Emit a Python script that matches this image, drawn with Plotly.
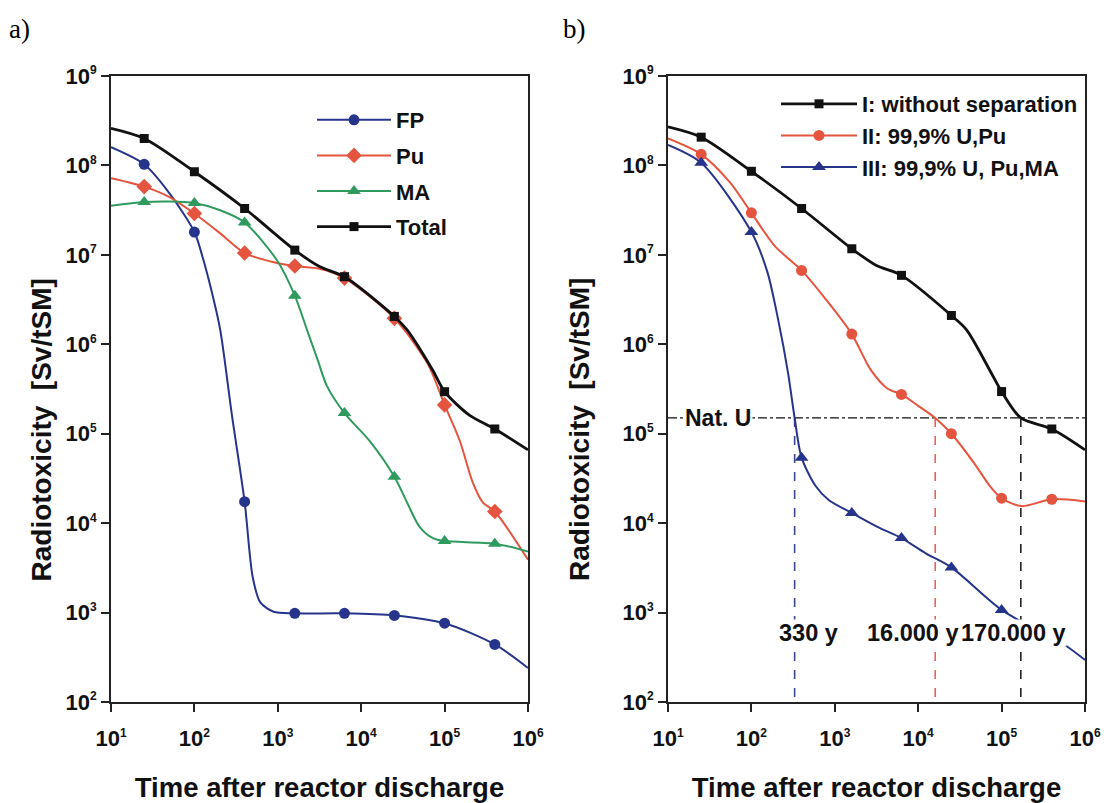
import plotly.graph_objects as go

# ---------------- shared ----------------
MARK_T = [25, 100, 400, 1600, 6300, 25000, 100000, 400000]   # times carrying symbols
TICK_X = [10, 100, 1000, 10000, 100000, 1000000]
TICK_Y = [1e2, 1e3, 1e4, 1e5, 1e6, 1e7, 1e8, 1e9]

# ---------------- a) components of spent fuel ----------------
fp_t = [10, 25, 50, 100, 126, 158, 204, 282, 400, 500, 617, 891, 1600, 6300, 25000, 100000, 400000, 1e6]
fp_v = [1.6e8, 1.03e8, 4.9e7, 1.8e7, 9.3e6, 4.2e6, 1.45e6, 1.6e5, 1.74e4, 2.5e3, 1.3e3, 1.02e3,
        980, 980, 930, 760, 440, 240]

pu_t = [10, 25, 51, 100, 204, 400, 871, 1600, 3160, 6300, 25000, 63000, 100000, 151000, 219000,
        288000, 400000, 1e6]
pu_v = [7.2e7, 5.8e7, 4.4e7, 2.9e7, 1.74e7, 1.05e7, 8.3e6, 7.5e6, 7.0e6, 5.5e6, 1.95e6, 6.0e5,
        2.1e5, 8.5e4, 2.8e4, 1.7e4, 1.35e4, 3.9e3]

ma_t = [10, 25, 50, 100, 204, 400, 977, 1600, 2240, 3020, 3890, 6300, 12600, 25000, 35500, 50100,
        72400, 100000, 400000, 1e6]
ma_v = [3.55e7, 3.9e7, 3.95e7, 3.8e7, 3.15e7, 2.3e7, 8.7e6, 3.5e6, 1.45e6, 6.6e5, 3.4e5, 1.7e5,
        8.3e4, 3.3e4, 1.7e4, 9.1e3, 6.8e3, 6.3e3, 5.9e3, 4.8e3]

tot_t = [10, 25, 100, 400, 1600, 3160, 6300, 25000, 35500, 50100, 72400, 100000, 200000, 400000, 1e6]
tot_v = [2.6e8, 2.0e8, 8.5e7, 3.3e7, 1.13e7, 7.4e6, 5.7e6, 2.05e6, 1.45e6, 9.0e5, 5.1e5, 2.95e5,
         1.6e5, 1.13e5, 6.6e4]

# ---------------- b) effect of partitioning ----------------
s1_t = [10, 25, 100, 400, 1600, 3160, 6300, 25000, 38000, 72400, 100000, 170000, 400000, 1e6]
s1_v = [2.7e8, 2.07e8, 8.6e7, 3.3e7, 1.17e7, 7.6e6, 5.9e6, 2.1e6, 1.45e6, 5.1e5, 2.96e5, 1.5e5,
        1.13e5, 6.6e4]

s2_t = [10, 25, 55, 100, 190, 400, 776, 1600, 2690, 4270, 6300, 10000, 16000, 25000, 46800, 72400,
        100000, 174000, 400000, 1e6]
s2_v = [2.0e8, 1.33e8, 6.5e7, 2.95e7, 1.26e7, 6.7e6, 3.2e6, 1.3e6, 5.2e5, 3.2e5, 2.75e5, 2.05e5,
        1.5e5, 1.0e5, 4.7e4, 2.6e4, 1.9e4, 1.55e4, 1.85e4, 1.75e4]

s3_t = [10, 25, 100, 155, 209, 275, 330, 400, 589, 851, 1600, 3240, 6300, 12300, 25000, 100000,
        400000, 603000, 1e6]
s3_v = [1.7e8, 1.07e8, 1.8e7, 6.5e6, 1.9e6, 4.8e5, 1.5e5, 5.4e4, 2.6e4, 1.8e4, 1.3e4, 9.1e3, 6.8e3,
        4.6e3, 3.2e3, 1.07e3, 5.2e2, 4.2e2, 2.95e2]

NAT_U = 1.5e5                         # natural uranium reference level
CROSS_T = [330, 16000, 170000]        # times at which each case reaches NAT_U
CROSS_LABELS = ["330 y", "16.000 y", "170.000 y"]

# ---------------- styling ----------------
SANS = "Liberation Sans, Arial, sans-serif"
BLUE, RED, GREEN, BLACK = "#27348b", "#e4543e", "#2f9a5e", "#111111"


def pick(ts, vs):
    """Values at the symbol times."""
    d = dict(zip(ts, vs))
    return [t for t in MARK_T if t in d], [d[t] for t in MARK_T if t in d]


def tick_text(v):
    e = len(str(int(v))) - 1
    return f"10<sup><span style='font-size:12px'>{e}</span></sup>"


fig = go.Figure()


def add_series(ts, vs, name, color, symbol, msize, width, xa, ya, legend):
    mx, my = pick(ts, vs)
    fig.add_trace(go.Scatter(x=ts, y=vs, mode="lines", line=dict(color=color, width=width,
                             shape="spline", smoothing=0.8), xaxis=xa, yaxis=ya,
                             showlegend=False, hoverinfo="skip"))
    fig.add_trace(go.Scatter(x=mx, y=my, mode="markers", xaxis=xa, yaxis=ya, showlegend=False,
                             marker=dict(color=color, symbol=symbol, size=msize)))
    # legend entry (line + symbol)
    fig.add_trace(go.Scatter(x=[None], y=[None], mode="lines+markers", name=name, legend=legend,
                             legendgroup=name, line=dict(color=color, width=width),
                             xaxis=xa, yaxis=ya,
                             marker=dict(color=color, symbol=symbol, size=msize)))


# reference level and crossing markers in panel b
fig.add_trace(go.Scatter(x=[10, 1e6], y=[NAT_U, NAT_U], mode="lines", xaxis="x2", yaxis="y2",
                         line=dict(color=BLACK, width=1.3, dash="dashdot"), showlegend=False,
                         hoverinfo="skip"))
for t, c in zip(CROSS_T, ["#3c4790", "#e8605a", "#222222"]):
    fig.add_trace(go.Scatter(x=[t, t], y=[NAT_U, 100], mode="lines", xaxis="x2", yaxis="y2",
                             line=dict(color=c, width=1.6, dash="dash"), showlegend=False,
                             hoverinfo="skip"))

add_series(fp_t, fp_v, "FP", BLUE, "circle", 11, 2, "x", "y", "legend")
add_series(pu_t, pu_v, "Pu", RED, "diamond", 12, 2, "x", "y", "legend")
add_series(ma_t, ma_v, "MA", GREEN, "triangle-up", 12, 2, "x", "y", "legend")
add_series(tot_t, tot_v, "Total", BLACK, "square", 9, 2.8, "x", "y", "legend")

add_series(s1_t, s1_v, "I: without separation", BLACK, "square", 9, 2.8, "x2", "y2", "legend2")
add_series(s2_t, s2_v, "II: 99,9% U,Pu", RED, "circle", 11, 2, "x2", "y2", "legend2")
add_series(s3_t, s3_v, "III: 99,9% U, Pu,MA", BLUE, "triangle-up", 12, 2, "x2", "y2", "legend2")

axis_common = dict(type="log", showline=True, linecolor="#222", linewidth=2, mirror=True,
                   ticks="outside", ticklen=8, tickwidth=2, tickcolor="#222", showgrid=False,
                   zeroline=False,
                   tickfont=dict(family=SANS, size=22, color="#111", weight=700))

xa = dict(axis_common, range=[1, 6], tickvals=TICK_X, ticktext=[tick_text(v) for v in TICK_X],
          ticklabelstandoff=8,
          title=dict(text="Time after reactor discharge", standoff=30,
                     font=dict(family=SANS, size=27.5, color="#111", weight=700)))
ya = dict(axis_common, range=[2, 9], tickvals=TICK_Y, ticktext=[tick_text(v) for v in TICK_Y])

legend_common = dict(bgcolor="rgba(0,0,0,0)", xanchor="left", yanchor="top",
                     font=dict(family=SANS, size=22, color="#111", weight=700),
                     itemclick=False)

fig.update_layout(
    width=1107, height=803,
    margin=dict(l=0, r=0, t=0, b=0, autoexpand=False),
    paper_bgcolor="white", plot_bgcolor="white",
    xaxis=dict(xa, domain=[111 / 1107, 528 / 1107], anchor="y"),
    yaxis=dict(ya, domain=[1 - 702 / 803, 1 - 76 / 803], anchor="x"),
    xaxis2=dict(xa, domain=[668 / 1107, 1085 / 1107], anchor="y2"),
    yaxis2=dict(ya, domain=[1 - 702 / 803, 1 - 76 / 803], anchor="x2"),
    legend=dict(legend_common, x=312 / 1107, y=1 - 99 / 803, itemwidth=74, tracegroupgap=4),
    legend2=dict(legend_common, x=776 / 1107, y=1 - 83 / 803, itemwidth=76, tracegroupgap=0),
    showlegend=True,
)

ann = [
    dict(text="a)", x=7 / 1107, y=1 - 29 / 803, xref="paper", yref="paper", xanchor="left",
         yanchor="middle", showarrow=False, font=dict(family="Liberation Serif", size=27, color="#000")),
    dict(text="b)", x=561 / 1107, y=1 - 29 / 803, xref="paper", yref="paper", xanchor="left",
         yanchor="middle", showarrow=False, font=dict(family="Liberation Serif", size=27, color="#000")),
    dict(text="Nat. U", x=1.603, y=5.176, xref="x2", yref="y2", showarrow=False, bgcolor="white",
         font=dict(family=SANS, size=23, color="#111", weight=700)),
]
# vertical axis titles, set a little below the middle of each panel
for xp in (23 / 1107, 579 / 1107):
    ann.append(dict(text="Radiotoxicity  [Sv/tSM]", x=xp, y=1 - 430 / 803, xref="paper",
                    yref="paper", textangle=-90, showarrow=False,
                    font=dict(family=SANS, size=28, color="#111", weight=700)))
for xl, lab in zip([2.69, 3.93, 5.145], CROSS_LABELS):
    ann.append(dict(text=lab, x=xl, y=2.77, xref="x2", yref="y2", showarrow=False, bgcolor="white",
                    borderpad=0, font=dict(family=SANS, size=23.5, color="#111", weight=700)))
fig.update_layout(annotations=ann)

fig.write_html("out.html")
